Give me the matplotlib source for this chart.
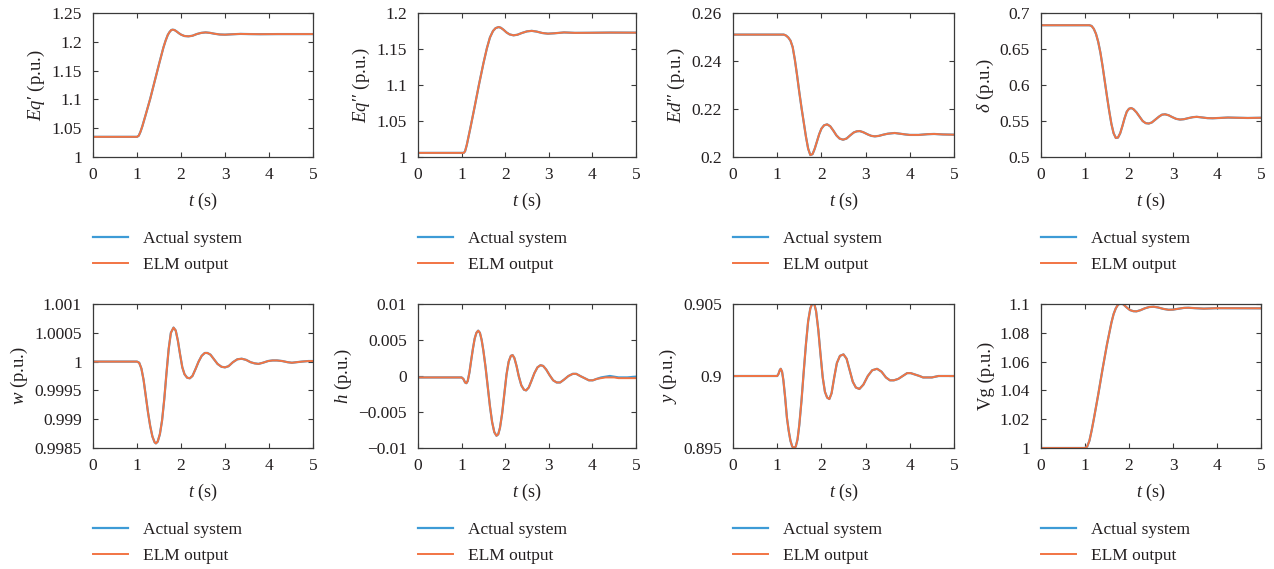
import numpy as np
import matplotlib
matplotlib.use("Agg")
import matplotlib.pyplot as plt

plt.rcParams['font.family'] = ['Liberation Serif', 'DejaVu Serif']
plt.rcParams['mathtext.fontset'] = 'custom'
plt.rcParams['mathtext.rm'] = 'Liberation Serif'
plt.rcParams['mathtext.it'] = 'Liberation Serif:italic'

# ---- data (time in s, values in p.u.) ----
t_eq1 = [0, 1.0, 1.04, 1.08, 1.12, 1.2, 1.3, 1.4, 1.5, 1.6, 1.65, 1.7, 1.74, 1.78, 1.81,
         1.85, 1.9, 1.95, 2.0, 2.08, 2.17, 2.26, 2.36, 2.46, 2.56, 2.66, 2.76, 2.88, 3.0,
         3.15, 3.35, 3.55, 3.8, 4.2, 5.0]
eq1 = [1.035, 1.035, 1.037, 1.044, 1.053, 1.074, 1.101, 1.131, 1.161, 1.19, 1.202, 1.212,
       1.217, 1.2205, 1.221, 1.2205, 1.218, 1.215, 1.2125, 1.2100, 1.2095, 1.2105, 1.2135,
       1.2155, 1.2163, 1.2155, 1.2140, 1.2127, 1.2124, 1.2130, 1.2137, 1.2134, 1.2132,
       1.2134, 1.2134]

t_eq2 = [0, 1.05, 1.08, 1.12, 1.2, 1.3, 1.4, 1.5, 1.58, 1.65, 1.72, 1.78, 1.85, 1.9,
         1.96, 2.03, 2.1, 2.19, 2.28, 2.38, 2.5, 2.61, 2.72, 2.85, 2.98, 3.12, 3.35, 3.6,
         3.9, 4.4, 5.0]
eq2 = [1.0057, 1.0057, 1.008, 1.017, 1.040, 1.070, 1.101, 1.130, 1.151, 1.166, 1.175,
       1.179, 1.1805, 1.1795, 1.1768, 1.1730, 1.1703, 1.1690, 1.1698, 1.1722, 1.1745,
       1.1752, 1.1742, 1.1722, 1.1713, 1.1718, 1.1730, 1.1724, 1.1725, 1.1728, 1.1727]

t_ed2 = [0, 1.15, 1.2, 1.25, 1.3, 1.35, 1.4, 1.45, 1.5, 1.55, 1.6, 1.65, 1.7, 1.75, 1.8,
         1.85, 1.9, 1.95, 2.0, 2.06, 2.13, 2.2, 2.27, 2.34, 2.41, 2.49, 2.57, 2.65, 2.73,
         2.8, 2.87, 2.95, 3.05, 3.13, 3.21, 3.3, 3.4, 3.5, 3.6, 3.66, 3.78, 3.9, 4.0,
         4.2, 4.4, 4.55, 4.75, 5.0]
ed2 = [0.2510, 0.2510, 0.2506, 0.2498, 0.2485, 0.2458, 0.2405, 0.2340, 0.2270, 0.2205,
       0.2145, 0.2085, 0.2035, 0.2008, 0.2012, 0.2035, 0.2065, 0.2095, 0.2118, 0.2132,
       0.2136, 0.2128, 0.2110, 0.2090, 0.2077, 0.2072, 0.2077, 0.2090, 0.2102, 0.2107,
       0.2108, 0.2103, 0.2094, 0.2088, 0.2086, 0.2088, 0.2093, 0.2097, 0.2099, 0.2100,
       0.2097, 0.2094, 0.2092, 0.2092, 0.2095, 0.2096, 0.2094, 0.2093]

t_dl = [0, 1.1, 1.15, 1.2, 1.25, 1.3, 1.35, 1.4, 1.45, 1.5, 1.55, 1.6, 1.65, 1.7, 1.75,
        1.8, 1.85, 1.9, 1.95, 2.0, 2.05, 2.1, 2.17, 2.24, 2.31, 2.38, 2.45, 2.52, 2.6,
        2.68, 2.75, 2.82, 2.9, 2.98, 3.07, 3.16, 3.25, 3.35, 3.45, 3.54, 3.65, 3.78,
        3.9, 4.05, 4.25, 4.45, 4.7, 5.0]
delta = [0.683, 0.683, 0.682, 0.678, 0.671, 0.660, 0.645, 0.626, 0.605, 0.584, 0.564,
         0.546, 0.533, 0.5265, 0.527, 0.533, 0.543, 0.554, 0.563, 0.567, 0.568, 0.5665,
         0.562, 0.556, 0.550, 0.547, 0.5465, 0.548, 0.552, 0.556, 0.5588, 0.5593, 0.558,
         0.5555, 0.553, 0.552, 0.5525, 0.554, 0.5553, 0.5558, 0.555, 0.554, 0.5538,
         0.5542, 0.5548, 0.5545, 0.5542, 0.5545]

t_w = [0, 1.0, 1.05, 1.1, 1.15, 1.2, 1.25, 1.3, 1.35, 1.4, 1.43, 1.47, 1.52, 1.57, 1.62,
       1.67, 1.72, 1.77, 1.83, 1.88, 1.93, 1.98, 2.03, 2.08, 2.14, 2.2, 2.26, 2.33, 2.4,
       2.47, 2.54, 2.6, 2.67, 2.75, 2.83, 2.92, 3.0, 3.08, 3.18, 3.28, 3.38, 3.48, 3.58,
       3.67, 3.76, 3.86, 3.98, 4.08, 4.18, 4.3, 4.42, 4.52, 4.63, 4.75, 4.9, 5.0]
w = [1.0, 1.0, 0.99998, 0.99988, 0.99968, 0.99940, 0.99912, 0.99888, 0.99870, 0.99860,
     0.99858, 0.99861, 0.99874, 0.99898, 0.99935, 0.99980, 1.00022, 1.00050, 1.00059,
     1.00054, 1.00036, 1.00012, 0.99990, 0.99978, 0.99972, 0.99971, 0.99975, 0.99987,
     1.00000, 1.00010, 1.00015, 1.00015, 1.00012, 1.00004, 0.99996, 0.99991, 0.99990,
     0.99992, 0.99999, 1.00004, 1.00005, 1.00003, 0.99999, 0.99997, 0.99996, 0.99998,
     1.00001, 1.00002, 1.00002, 1.00001, 0.99999, 0.99998, 0.99999, 1.0, 1.00001, 1.00001]

t_h = [0, 1.0, 1.04, 1.08, 1.11, 1.14, 1.18, 1.22, 1.26, 1.3, 1.34, 1.38, 1.42, 1.46,
       1.5, 1.55, 1.6, 1.65, 1.7, 1.75, 1.8, 1.84, 1.88, 1.93, 1.98, 2.03, 2.08, 2.13,
       2.17, 2.21, 2.26, 2.31, 2.37, 2.43, 2.48, 2.54, 2.6, 2.67, 2.74, 2.81, 2.87, 2.94,
       3.02, 3.1, 3.18, 3.26, 3.35, 3.45, 3.55, 3.63, 3.72, 3.82, 3.92, 4.01, 4.1, 4.2,
       4.3, 4.4, 4.5, 4.6, 4.8, 5.0]
h = [-0.0002, -0.0002, -0.0004, -0.0009, -0.0010, -0.0007, 0.0005, 0.0022, 0.0038,
     0.0052, 0.0060, 0.0063, 0.0060, 0.0050, 0.0035, 0.0012, -0.0015, -0.0042, -0.0064,
     -0.0078, -0.0083, -0.0081, -0.0072, -0.0052, -0.0025, 0.0002, 0.0020, 0.0028,
     0.0029, 0.0025, 0.0014, 0.0000, -0.0013, -0.0019, -0.0020, -0.0016, -0.0007,
     0.0004, 0.0012, 0.0015, 0.0014, 0.0009, 0.0001, -0.0006, -0.0009, -0.0009, -0.0005,
     0.0000, 0.0003, 0.0003, 0.0000, -0.0003, -0.0006, -0.0006, -0.0004, -0.0002,
     -0.0001, 0.0000, -0.0001, -0.0002, -0.0002, -0.0001]
h_elm = [-0.0002, -0.0002, -0.0004, -0.0009, -0.0010, -0.0007, 0.0005, 0.0022, 0.0038,
         0.0052, 0.0060, 0.0063, 0.0060, 0.0050, 0.0035, 0.0012, -0.0015, -0.0042, -0.0064,
         -0.0078, -0.0083, -0.0081, -0.0072, -0.0052, -0.0025, 0.0002, 0.0020, 0.0028,
         0.0029, 0.0025, 0.0014, 0.0000, -0.0013, -0.0019, -0.0020, -0.0016, -0.0007,
         0.0004, 0.0012, 0.0015, 0.0014, 0.0009, 0.0001, -0.0006, -0.0009, -0.0009,
         -0.0005, 0.0000, 0.0003, 0.0003, 0.0000, -0.0003, -0.0006, -0.0006, -0.0004,
         -0.0003, -0.0002, -0.0002, -0.0002, -0.0003, -0.0003, -0.0003]

t_y = [0, 1.0, 1.03, 1.06, 1.08, 1.11, 1.14, 1.18, 1.22, 1.26, 1.3, 1.34, 1.38, 1.42,
       1.46, 1.5, 1.55, 1.6, 1.65, 1.7, 1.75, 1.79, 1.82, 1.84, 1.88, 1.93, 1.98, 2.03,
       2.08, 2.13, 2.18, 2.23, 2.29, 2.35, 2.42, 2.5, 2.57, 2.64, 2.71, 2.78, 2.86, 2.95,
       3.05, 3.15, 3.26, 3.36, 3.46, 3.55, 3.64, 3.74, 3.84, 3.94, 4.02, 4.12, 4.22, 4.3,
       4.39, 4.5, 4.65, 5.0]
yv = [0.9, 0.9, 0.90015, 0.90042, 0.9005, 0.9003, 0.8997, 0.8985, 0.8971, 0.8962,
      0.8955, 0.8951, 0.8950, 0.8951, 0.8956, 0.8966, 0.8983, 0.9003, 0.9022, 0.9038,
      0.9047, 0.9050, 0.9051, 0.9050, 0.9045, 0.9032, 0.9015, 0.8999, 0.8989, 0.8985,
      0.8984, 0.8988, 0.8999, 0.9009, 0.9014, 0.9015, 0.9012, 0.9004, 0.8996, 0.8992,
      0.8991, 0.8994, 0.9000, 0.9004, 0.9005, 0.9003, 0.8999, 0.8997, 0.8997, 0.8998,
      0.9000, 0.9002, 0.9002, 0.9001, 0.9000, 0.8999, 0.8999, 0.8999, 0.9, 0.9]

t_vg = [0, 1.0, 1.05, 1.1, 1.15, 1.2, 1.3, 1.4, 1.5, 1.6, 1.65, 1.7, 1.75, 1.81, 1.87,
        1.94, 2.02, 2.1, 2.17, 2.26, 2.36, 2.46, 2.56, 2.66, 2.78, 2.9, 3.0, 3.12, 3.25,
        3.35, 3.5, 3.7, 4.0, 5.0]
vg = [1.0, 1.0, 1.001, 1.005, 1.012, 1.020, 1.037, 1.055, 1.072, 1.087, 1.093, 1.097,
      1.0995, 1.1005, 1.0998, 1.0978, 1.0958, 1.0950, 1.0949, 1.0957, 1.0970, 1.0979,
      1.0981, 1.0976, 1.0966, 1.0960, 1.0961, 1.0967, 1.0973, 1.0974, 1.0971, 1.0968,
      1.0971, 1.0970]

panels = [
    (t_eq1, eq1, eq1, r"$Eq\prime$ (p.u.)", (1, 1.25), [1, 1.05, 1.1, 1.15, 1.2, 1.25],
     ['1', '1.05', '1.1', '1.15', '1.2', '1.25']),
    (t_eq2, eq2, eq2, r"$Eq\prime\prime$ (p.u.)", (1, 1.2), [1, 1.05, 1.1, 1.15, 1.2],
     ['1', '1.05', '1.1', '1.15', '1.2']),
    (t_ed2, ed2, ed2, r"$Ed\prime\prime$ (p.u.)", (0.2, 0.26), [0.2, 0.22, 0.24, 0.26],
     ['0.2', '0.22', '0.24', '0.26']),
    (t_dl, delta, delta, r"$\delta$ (p.u.)", (0.5, 0.7), [0.5, 0.55, 0.6, 0.65, 0.7],
     ['0.5', '0.55', '0.6', '0.65', '0.7']),
    (t_w, w, w, r"$w$ (p.u.)", (0.9985, 1.001), [0.9985, 0.999, 0.9995, 1, 1.0005, 1.001],
     ['0.9985', '0.999', '0.9995', '1', '1.0005', '1.001']),
    (t_h, h, h_elm, r"$h$ (p.u.)", (-0.01, 0.01), [-0.01, -0.005, 0, 0.005, 0.01],
     ['\u22120.01', '\u22120.005', '0', '0.005', '0.01']),
    (t_y, yv, yv, r"$y$ (p.u.)", (0.895, 0.905), [0.895, 0.9, 0.905],
     ['0.895', '0.9', '0.905']),
    (t_vg, vg, vg, "Vg (p.u.)", (1, 1.1), [1, 1.02, 1.04, 1.06, 1.08, 1.1],
     ['1', '1.02', '1.04', '1.06', '1.08', '1.1']),
]

W, H = 1274, 569
fig = plt.figure(figsize=(W / 100, H / 100), dpi=100)

lefts = [93, 418, 733, 1041]
widths = [220, 218, 221, 220]
tops = [13, 304]
ax_h = 144
leg_y = [231, 522]

blue = '#3d9bd6'
orange = '#f27443'
ink = '#231f20'

for i, (tt, act, elm, ylab, ylim, yt, ytl) in enumerate(panels):
    r, c = divmod(i, 4)
    ax = fig.add_axes([lefts[c] / W, 1 - (tops[r] + ax_h) / H, widths[c] / W, ax_h / H])
    ax.plot(tt, act, color=blue, lw=1.6, label='Actual system')
    ax.plot(tt, elm, color=orange, lw=1.4, label='ELM output')
    ax.set_xlim(0, 5)
    ax.set_ylim(*ylim)
    ax.set_xticks([0, 1, 2, 3, 4, 5])
    ax.set_yticks(yt)
    ax.set_yticklabels(ytl)
    ax.tick_params(direction='in', length=3.5, width=0.8, top=True, right=True,
                   labelsize=12.5, colors='#3a3a3a', labelcolor=ink)
    ax.tick_params(axis='x', pad=7)
    ax.tick_params(axis='y', pad=8)
    for s in ax.spines.values():
        s.set_color('#3a3a3a')
        s.set_linewidth(0.9)
    ax.set_xlabel(r"$t$ (s)", fontsize=13, color=ink, labelpad=6)
    ax.set_ylabel(ylab, fontsize=13.5, color=ink, labelpad=3)
    ax.legend(loc='upper left', bbox_to_anchor=(lefts[c] / W, 1 - leg_y[r] / H),
              bbox_transform=fig.transFigure, frameon=False, fontsize=12.5,
              handlelength=2.0, handletextpad=0.9, labelspacing=0.55,
              borderpad=0, borderaxespad=0, labelcolor=ink)

fig.savefig('out.png', dpi=100)
